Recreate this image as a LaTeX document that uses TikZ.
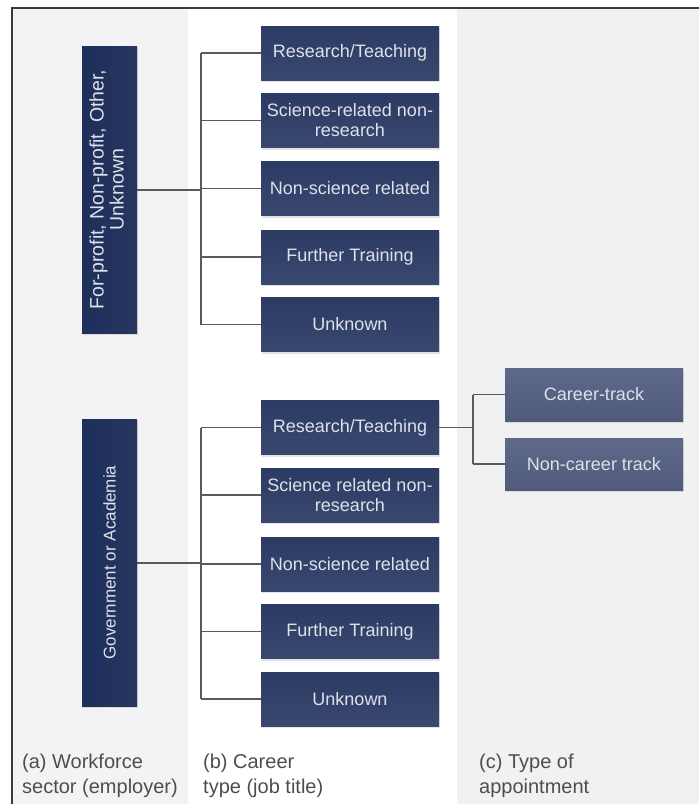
\documentclass[tikz,border=0pt]{standalone}
\usepackage{fontspec}
\setmainfont{Liberation Sans}
\usepackage{graphicx}
\usetikzlibrary{shadows}
\definecolor{colA}{HTML}{F3F3F5}
\definecolor{colC}{HTML}{F1F1F1}
\definecolor{frameC}{HTML}{3A3A3A}
\definecolor{leftC}{HTML}{1F2F5C}
\definecolor{leftC2}{HTML}{26365F}
\definecolor{midtop}{HTML}{2C3B63}
\definecolor{midbot}{HTML}{3A4870}
\definecolor{righttop}{HTML}{5E6888}
\definecolor{rightbot}{HTML}{515C7C}
\definecolor{boxtext}{HTML}{DDE1EA}
\definecolor{lineC}{HTML}{5A5A5A}
\definecolor{labelC}{HTML}{4E4E4E}
\begin{document}
\begin{tikzpicture}[x=1pt,y=-1pt,
  basebox/.style={rectangle, inner sep=0pt, draw=none, text=boxtext, align=center,
    font=\fontsize{18}{20}\selectfont,
    drop shadow={opacity=0.22, shadow xshift=1pt, shadow yshift=-2pt}},
  leftbox/.style={basebox, minimum width=55pt, minimum height=287pt, left color=leftC, right color=leftC2},
  midbox/.style={basebox, minimum width=178pt, minimum height=54pt, top color=midtop, bottom color=midbot},
  rightbox/.style={basebox, minimum width=178pt, minimum height=52pt, top color=righttop, bottom color=rightbot},
  conn/.style={draw=lineC, line width=1.3pt},
  trunk/.style={draw=lineC, line width=2pt},
  lbl/.style={anchor=base west, inner sep=0pt, text=labelC, font=\fontsize{20}{25}\selectfont}
]
\useasboundingbox (0,0) rectangle (699,804);
% column backgrounds
\fill[colA] (12,8) rectangle (188,804);
\fill[white] (188,8) rectangle (457,804);
\fill[colC] (457,8) rectangle (699,804);
\draw[frameC, line width=1.2pt] (12,804) -- (12,8) -- (699,8);

% left column
\node[leftbox, font=\fontsize{19.5}{20}\selectfont] (lt) at (109.5,189.5) {\rotatebox{90}{\begin{tabular}{@{}c@{}}For-profit, Non-profit, Other,\\Unknown\end{tabular}}};
\node[leftbox, font=\fontsize{17}{20}\selectfont] (lb) at (109.5,562.5) {\rotatebox{90}{Government or Academia}};

% middle column, top group
\node[midbox] (t1) at (350,53) {Research/Teaching};
\node[midbox] (t2) at (350,120.5) {Science-related non-\\research};
\node[midbox] (t3) at (350,188.5) {Non-science related};
\node[midbox] (t4) at (350,257) {Further Training};
\node[midbox] (t5) at (350,324.5) {Unknown};

% middle column, bottom group
\node[midbox] (g1) at (350,427.5) {Research/Teaching};
\node[midbox] (g2) at (350,495) {Science related non-\\research};
\node[midbox] (g3) at (350,564) {Non-science related};
\node[midbox] (g4) at (350,631.5) {Further Training};
\node[midbox] (g5) at (350,699) {Unknown};

% right column
\node[rightbox, minimum height=53pt] (r1) at (594,394.5) {Career-track};
\node[rightbox] (r2) at (594,464) {Non-career track};

% bus coordinates
\coordinate (bx) at (201,0);
\coordinate (cx) at (473,0);

% top tree
\draw[trunk] (lt.east) -- (lt.east -| bx);
\draw[conn] (t1.west -| bx) -- (t5.west -| bx);
\foreach \n in {t1,t2,t3,t4,t5} \draw[conn] (\n.west -| bx) -- (\n.west);

% bottom tree
\draw[trunk] (lb.east) -- (lb.east -| bx);
\draw[conn] (g1.west -| bx) -- (g5.west -| bx);
\foreach \n in {g1,g2,g3,g4,g5} \draw[conn] (\n.west -| bx) -- (\n.west);

% right tree
\draw[conn] (g1.east) -- (g1.east -| cx);
\draw[conn] (r1.west -| cx) -- (r2.west -| cx);
\draw[conn] (r1.west -| cx) -- (r1.west);
\draw[conn] (r2.west -| cx) -- (r2.west);

% labels
\node[lbl] (la1) at (22,768) {(a) Workforce};
\node[lbl] (la2) at (22,793) {sector (employer)};
\node[lbl] (lb1) at (203,768) {(b) Career};
\node[lbl] (lb2) at (203,793) {type (job title)};
\node[lbl] (lc1) at (479,768) {(c) Type of};
\node[lbl] (lc2) at (479,793) {appointment};
\end{tikzpicture}
\end{document}
